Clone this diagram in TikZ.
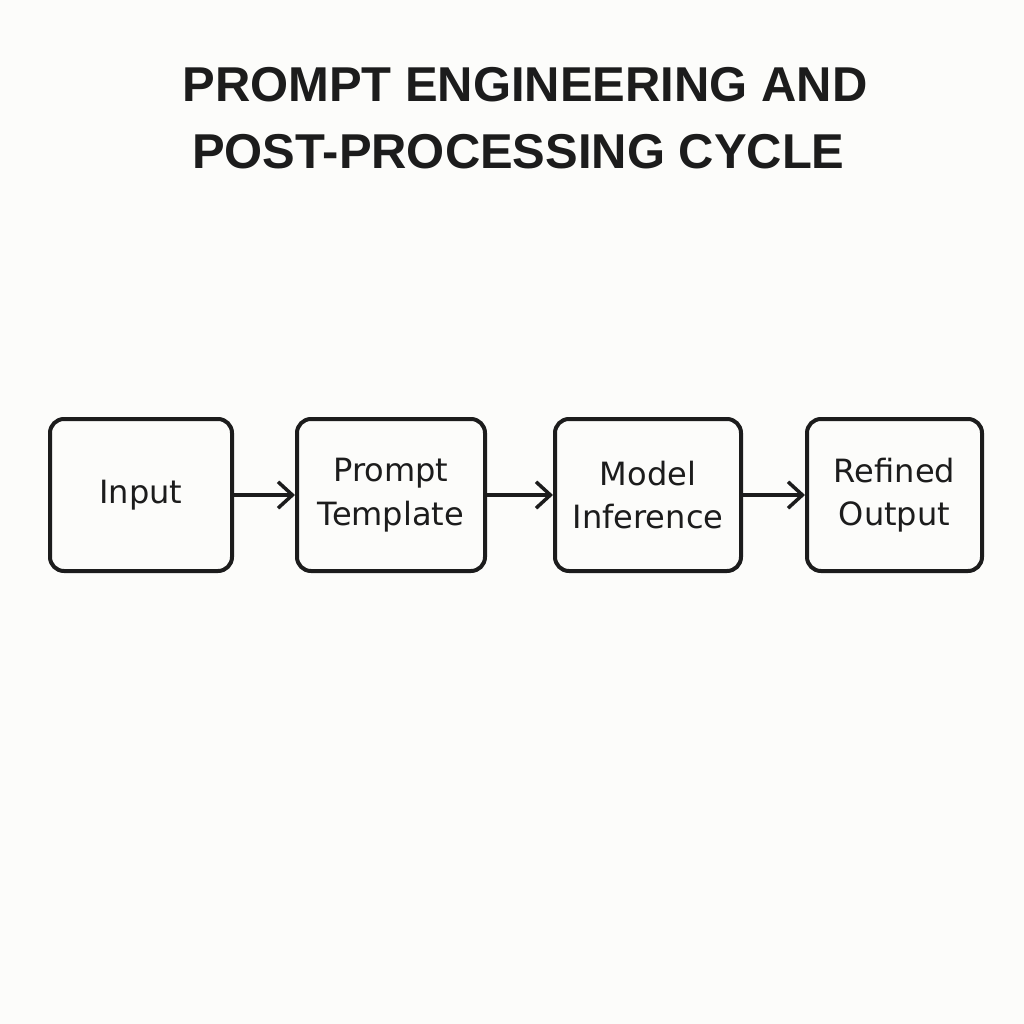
\documentclass[tikz,border=0pt]{standalone}
\usepackage{fontspec}
\setmainfont{DejaVu Sans}
\newfontfamily\titlefont{Liberation Sans}
\usetikzlibrary{arrows.meta}

\definecolor{colorbg}{RGB}{252,252,250}
\definecolor{colorink}{RGB}{28,28,28}

\tikzset{
	stagebox/.style={draw=colorink, line width=0.1cm, rounded corners=0.35cm, minimum height=3.8cm, align=center, text=colorink, font=\fontsize{22.8pt}{30.8pt}\selectfont},
	flowarrow/.style={draw=colorink, line width=0.0875cm, -{Straight Barb[length=0.36cm, width=0.66cm]}},
	titletext/.style={text=colorink, anchor=base, inner sep=0pt, font=\titlefont\bfseries\fontsize{34.8pt}{47.7pt}\selectfont}
}

\begin{document}
\begin{tikzpicture}
	\fill[colorbg] (0cm ,0cm) rectangle (25.6cm ,-25.6cm);
	\useasboundingbox (0cm ,0cm) rectangle (25.6cm ,-25.6cm);
	% title
	\node[titletext] (title1) at (13.125cm ,-2.525cm) {PROMPT ENGINEERING AND};
	\node[titletext] (title2) at (12.96cm ,-4.2cm) {POST-PROCESSING CYCLE};
	% stages
	\node[stagebox, minimum width=4.55cm] (n1) at (3.525cm ,-12.375cm) {Input};
	\node[stagebox, minimum width=4.7cm] (n2) at (9.775cm ,-12.375cm) {Prompt\\Template};
	\node[stagebox, minimum width=4.65cm] (n3) at (16.2cm ,-12.375cm) {Model\\Inference};
	\node[stagebox, minimum width=4.375cm] (n4) at (22.3625cm ,-12.375cm) {Refined\\Output};
	% arrows
	\draw[flowarrow] (n1) -- (n2);
	\draw[flowarrow] (n2) -- (n3);
	\draw[flowarrow] (n3) -- (n4);
\end{tikzpicture}
\end{document}
